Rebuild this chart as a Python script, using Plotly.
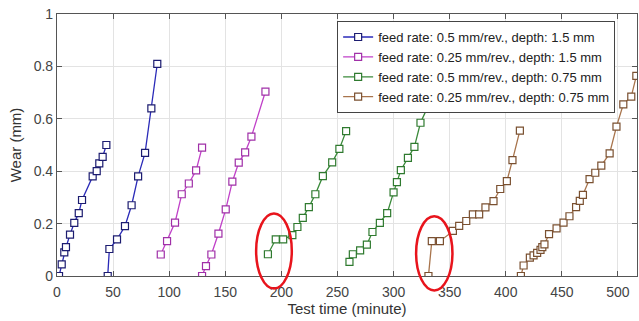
import plotly.graph_objects as go

# ---- data ----
blue_x1 = [1.8, 4.2, 6.5, 8.0, 11.6, 15.4, 19.4, 22.3, 31.8, 35.4, 37.7, 40.7, 44.0]
blue_y1 = [0, 0.044, 0.09, 0.11, 0.158, 0.203, 0.24, 0.29, 0.38, 0.40, 0.43, 0.455, 0.50]
blue_x2 = [45.2, 46.7, 53.5, 60.6, 66.5, 72.3, 78.5, 84.1, 89.4]
blue_y2 = [0, 0.103, 0.14, 0.19, 0.27, 0.38, 0.47, 0.64, 0.81]

mag_x1 = [92.5, 98.1, 105.2, 111.2, 117.5, 124.0, 129.3]
mag_y1 = [0.082, 0.133, 0.204, 0.312, 0.353, 0.403, 0.49]
mag_x2 = [129.3, 132.8, 137.6, 143.9, 150.4, 156.3, 162.0, 167.7, 173.3, 185.8]
mag_y2 = [0, 0.038, 0.082, 0.162, 0.254, 0.36, 0.433, 0.472, 0.532, 0.704]

grn_x1 = [188.0, 195.0, 201.6, 209.8, 214.3, 219.1, 224.5, 230.3, 237.0, 245.3, 251.7, 257.7]
grn_y1 = [0.083, 0.14, 0.14, 0.156, 0.187, 0.222, 0.263, 0.312, 0.381, 0.434, 0.485, 0.553]
grn_x2 = [260.7, 263.7, 270.2, 276.2, 281.2, 287.8, 294.3, 300.0, 303.0, 306.5, 312.8, 318.6, 324.0, 331.5]
grn_y2 = [0.054, 0.083, 0.098, 0.12, 0.168, 0.203, 0.24, 0.319, 0.358, 0.404, 0.451, 0.493, 0.585, 0.655]

brn_x1 = [331.1, 334.1, 341.3, 352.9, 358.5, 364.8, 370.7, 376.3, 381.9, 389.1, 395.1, 401.0, 406.0, 412.6]
brn_y1 = [0, 0.133, 0.133, 0.172, 0.191, 0.21, 0.235, 0.235, 0.262, 0.286, 0.332, 0.362, 0.442, 0.555]
brn_x2 = [413.5, 415.9, 421.5, 424.8, 428.0, 431.0, 432.6, 434.5, 438.6, 445.3, 451.5, 456.8, 462.7,
          466.0, 468.8, 474.7, 479.8, 485.2, 492.6, 498.7, 504.8, 511.9, 516.4]
brn_y2 = [0, 0.04, 0.07, 0.079, 0.088, 0.1, 0.11, 0.121, 0.16, 0.182, 0.204, 0.228, 0.263,
          0.287, 0.31, 0.37, 0.394, 0.421, 0.468, 0.57, 0.655, 0.685, 0.764]

labels = [
    "feed rate: 0.5 mm/rev., depth: 1.5 mm",
    "feed rate: 0.25 mm/rev., depth: 1.5 mm",
    "feed rate: 0.5 mm/rev., depth: 0.75 mm",
    "feed rate: 0.25 mm/rev., depth: 0.75 mm",
]
colors = ["#2a2ab8", "#c040c8", "#3a8a3a", "#a8744c"]
edge_colors = ["#1c1c70", "#a030a8", "#2f7a2f", "#7a5030"]

# highlighted regions (data coords: x0, x1, y0, y1)
ellipses = [(177.5, 209.3, -0.048, 0.239), (320.1, 352.5, -0.055, 0.228)]

x_ticks = [0, 50, 100, 150, 200, 250, 300, 350, 400, 450, 500]
y_ticks = [0, 0.2, 0.4, 0.6, 0.8, 1]
y_tick_text = ["0", "0.2", "0.4", "0.6", "0.8", "1"]
x_range = [0, 517]
y_range = [0, 1]

series = [
    (blue_x1, blue_y1, blue_x2, blue_y2),
    (mag_x1, mag_y1, mag_x2, mag_y2),
    (grn_x1, grn_y1, grn_x2, grn_y2),
    (brn_x1, brn_y1, brn_x2, brn_y2),
]

fig = go.Figure()
for (x1, y1, x2, y2), lab, c, ec in zip(series, labels, colors, edge_colors):
    fig.add_trace(go.Scatter(
        x=x1 + [None] + x2, y=y1 + [None] + y2,
        mode="lines+markers", name=lab, connectgaps=False,
        line=dict(color=c, width=1.3),
        marker=dict(symbol="square", size=7, color="white",
                    line=dict(color=ec, width=1.2)),
    ))

def to_px(v, r):
    return (v - r[0]) / (r[1] - r[0])

for x0, x1, y0, y1 in ellipses:
    fig.add_shape(type="circle", xref="paper", yref="paper",
                  x0=to_px(x0, x_range), x1=to_px(x1, x_range),
                  y0=to_px(y0, y_range), y1=to_px(y1, y_range),
                  line=dict(color="#e8141c", width=2.5), layer="above")

font_family = "Liberation Sans, Arial, sans-serif"
fig.update_layout(
    width=639, height=321,
    margin=dict(l=57, r=2, t=14, b=45),
    paper_bgcolor="white", plot_bgcolor="white",
    font=dict(family=font_family, color="#333333", size=14),
    showlegend=True,
    legend=dict(x=0.483, y=0.973, xanchor="left", yanchor="top",
                bgcolor="white", bordercolor="#444444", borderwidth=1,
                font=dict(size=13, color="#222222"),
                tracegroupgap=0, itemwidth=30),
)
fig.update_xaxes(
    range=x_range, tickvals=x_ticks, showgrid=True, gridcolor="#e3e3e3", gridwidth=1,
    showline=True, linecolor="#555555", linewidth=1.2, mirror="allticks",
    ticks="inside", ticklen=5, tickcolor="#555555", zeroline=False,
    tickfont=dict(size=14, color="#444444"), ticklabelstandoff=3,
    title=dict(text="Test time (minute)", font=dict(size=15, color="#333333"), standoff=3),
)
fig.update_yaxes(
    range=y_range, tickvals=y_ticks, ticktext=y_tick_text, showgrid=True, gridcolor="#e3e3e3",
    gridwidth=1, showline=True, linecolor="#555555", linewidth=1.2, mirror="allticks",
    ticks="inside", ticklen=5, tickcolor="#555555", zeroline=False,
    tickfont=dict(size=14, color="#444444"),
    title=dict(text="Wear (mm)", font=dict(size=15, color="#333333"), standoff=8),
)

fig.write_html("out.html")
